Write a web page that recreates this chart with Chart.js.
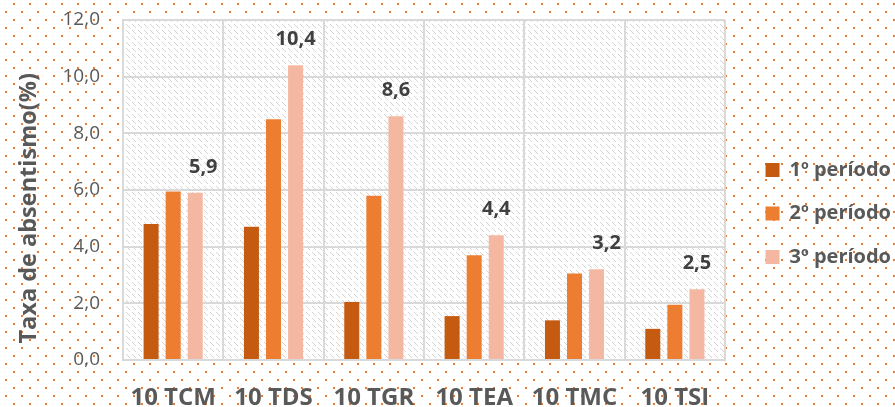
<!DOCTYPE html>
<html>
<head>
<meta charset="utf-8">
<script src="https://cdn.jsdelivr.net/npm/chart.js@4.4.0/dist/chart.umd.min.js"></script>
<style>
  html, body { margin: 0; padding: 0; background: #fff; }
  #wrap { width: 895px; height: 407px; }
</style>
</head>
<body>
<div id="wrap"><canvas id="chartAbsentismo" width="895" height="407"></canvas></div>
<script>
// ====== DADOS ======
const turmas = ["10 TCM", "10 TDS", "10 TGR", "10 TEA", "10 TMC", "10 TSI"];
const periodo1 = [4.8, 4.7, 2.05, 1.55, 1.4, 1.1];
const periodo2 = [5.95, 8.5, 5.8, 3.7, 3.05, 1.95];
const periodo3 = [5.9, 10.4, 8.6, 4.4, 3.2, 2.5];
const nomesPeriodos = ["1º período", "2º período", "3º período"];
const yTicks = [0, 2, 4, 6, 8, 10, 12];

const cores = ["#C55A11", "#ED7D31", "#F4B8A2"];
const cinza = "#595959";
const fonte = "'Open Sans', sans-serif";

const fmt = (v) => v.toFixed(1).replace(".", ",");

// fundo com pontinhos laranja
function dotPattern(ctx) {
  const c = document.createElement("canvas");
  c.width = 16;
  c.height = 16;
  const g = c.getContext("2d");
  g.fillStyle = "#ED7D31";
  g.fillRect(13, 3, 2, 2);
  g.fillRect(5, 11, 2, 2);
  return ctx.createPattern(c, "repeat");
}

// tracejado diagonal da área do gráfico
function hatchPattern(ctx) {
  const c = document.createElement("canvas");
  c.width = 6;
  c.height = 6;
  const g = c.getContext("2d");
  g.fillStyle = "#ffffff";
  g.fillRect(0, 0, 6, 6);
  g.fillStyle = "#d4d4d4";
  for (let i = 0; i < 4; i++) g.fillRect(i, i, 1, 1);
  return ctx.createPattern(c, "repeat");
}

const fundoPlugin = {
  id: "fundo",
  beforeDraw(chart) {
    const ctx = chart.ctx;
    const a = chart.chartArea;
    ctx.save();
    ctx.fillStyle = dotPattern(ctx);
    ctx.fillRect(0, 0, chart.width, chart.height);
    ctx.fillStyle = hatchPattern(ctx);
    ctx.fillRect(a.left, a.top, a.right - a.left, a.bottom - a.top);
    ctx.restore();
    // afasta a legenda da área do gráfico
    const lg = chart.legend;
    if (lg) {
      const w = lg.width;
      lg.left = a.right + 17;
      lg.right = lg.left + w;
    }
  },
};

// rótulos só no 3º período
const rotulosPlugin = {
  id: "rotulos",
  afterDatasetsDraw(chart) {
    const ctx = chart.ctx;
    const meta = chart.getDatasetMeta(2);
    const shifts = [8, 0, 0, 0, 10, 0];
    ctx.save();
    ctx.font = "bold 20px " + fonte;
    ctx.fillStyle = "#404040";
    ctx.textAlign = "center";
    ctx.textBaseline = "middle";
    meta.data.forEach((bar, i) => {
      ctx.fillText(fmt(periodo3[i]), bar.x + shifts[i], bar.y - 26);
    });
    ctx.restore();
  },
};

const datasets = [periodo1, periodo2, periodo3].map((vals, i) => ({
  label: nomesPeriodos[i],
  data: vals,
  backgroundColor: cores[i],
  borderWidth: 0,
  categoryPercentage: 0.66,
  barPercentage: 0.68,
}));

new Chart(document.getElementById("chartAbsentismo"), {
  type: "bar",
  data: { labels: turmas, datasets },
  options: {
    responsive: false,
    animation: false,
    layout: { padding: { left: 2, right: 11, top: 20, bottom: 0 } },
    plugins: {
      legend: {
        position: "right",
        labels: {
          boxWidth: 14,
          boxHeight: 14,
          padding: 23.5,
          color: cinza,
          font: { family: fonte, size: 20, weight: "bold" },
        },
      },
      tooltip: { enabled: false },
    },
    scales: {
      x: {
        grid: { color: "#d9d9d9", lineWidth: 2, drawTicks: false, offset: true },
        border: { color: "#d9d9d9", width: 2 },
        ticks: {
          color: cinza,
          padding: 24,
          maxRotation: 0,
          font: { family: fonte, size: 24, weight: "bold" },
        },
        afterFit(scale) {
          scale.height = 47;
        },
      },
      y: {
        min: 0,
        max: 12,
        afterBuildTicks(scale) {
          scale.ticks = yTicks.map((v) => ({ value: v }));
        },
        grid: {
          color: "#d9d9d9",
          lineWidth: 2,
          tickLength: 23,
          tickColor: "rgba(0,0,0,0)",
        },
        border: { color: "#d9d9d9", width: 2 },
        ticks: {
          color: cinza,
          padding: 0,
          font: { family: fonte, size: 19 },
          callback: (v) => fmt(v),
        },
        title: {
          display: true,
          // espaços no fim descem o texto, como no Excel
          text: "Taxa de absentismo(%)      ",
          color: cinza,
          padding: { top: 13, bottom: 4 },
          font: { family: fonte, size: 23.5, weight: "bold" },
        },
        afterFit(scale) {
          scale.width = 121;
        },
      },
    },
  },
  plugins: [fundoPlugin, rotulosPlugin],
});
</script>
</body>
</html>
